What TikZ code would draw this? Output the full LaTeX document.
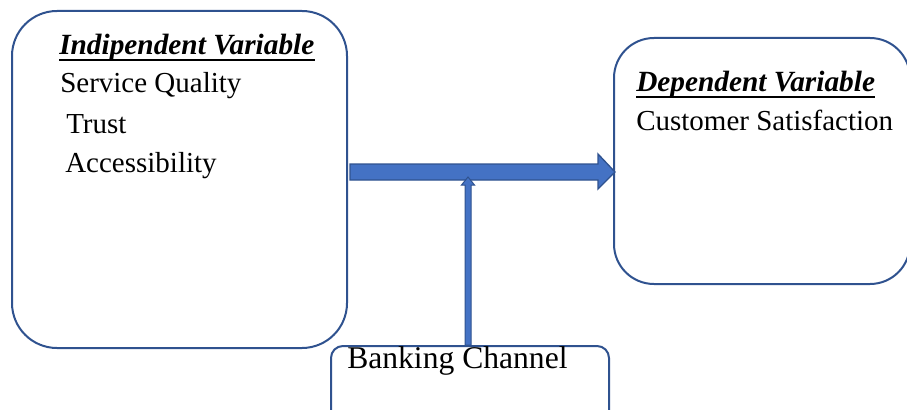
\documentclass[tikz,border=0pt]{standalone}
\usepackage{fontspec}
\setmainfont{Liberation Serif}
\usetikzlibrary{calc}
\definecolor{edge}{HTML}{2F528F}
\definecolor{fillb}{HTML}{4472C4}
\begin{document}
\begin{tikzpicture}[x=0.75pt,y=-0.75pt,
 box/.style={draw=edge,line width=1.5pt,fill=none},
 txt/.style={anchor=base west,inner sep=0pt,font=\fontsize{21.75}{26}\selectfont},
 bigtxt/.style={anchor=base west,inner sep=0pt,font=\fontsize{23.7}{28}\selectfont},
 head/.style={anchor=base west,inner sep=0pt,font=\fontsize{22}{26}\selectfont\bfseries\itshape},
 uline/.style={line width=1.5pt},
 barrow/.style={fill=fillb,draw=edge,line width=1pt,line join=miter}]
\useasboundingbox (0,0) rectangle (907,410);
\clip (0,0) rectangle (907,410);
% boxes
\node[box,rounded corners=33.75pt,minimum width=251.25pt,minimum height=252.75pt] (L) at (179.5,179.5) {};
\node[box,rounded corners=30pt,minimum width=222pt,minimum height=184.5pt] (R) at (762,161) {};
\node[box,rounded corners=9pt,minimum width=208.5pt,minimum height=60pt] (B) at (470,386) {};
% texts
\node[head] (h1) at (59,55) {Indipendent Variable};
\draw[uline] ($(h1.base west)+(0,5)$) -- ($(h1.base east)+(0,5)$);
\node[txt] (t1) at (60,93) {Service Quality};
\node[txt] (t2) at (66,133) {Trust};
\node[txt] (t3) at (65,172) {Accessibility};
\node[head] (h2) at (636,92) {Dependent Variable};
\draw[uline] ($(h2.base west)+(0,5)$) -- ($(h2.base east)+(0,5)$);
\node[txt] (t4) at (636,130) {Customer Satisfaction};
% horizontal block arrow
\coordinate (hs) at ($(L.east|-0,172)+(2,0)$);
\coordinate (ht) at ($(R.west|-0,172)+(2,0)$);
\draw[barrow] ($(hs)+(0,-8)$) -- ($(ht)+(-17,-8)$) -- ($(ht)+(-17,-18)$) -- (ht)
  -- ($(ht)+(-17,17)$) -- ($(ht)+(-17,8)$) -- ($(hs)+(0,8)$) -- cycle;
% vertical block arrow
\coordinate (vs) at ($(B.north)+(-2,0)$);
\coordinate (vt) at ($(vs|-hs)+(0,5)$);
\draw[barrow,line width=0.75pt] ($(vs)+(-3,0)$) -- ($(vt)+(-3,8)$) -- ($(vt)+(-6.5,8)$) -- (vt)
  -- ($(vt)+(6.5,8)$) -- ($(vt)+(3,8)$) -- ($(vs)+(3,0)$) -- cycle;
\node[bigtxt] (t5) at (347,368) {Banking Channel};
\end{tikzpicture}
\end{document}
